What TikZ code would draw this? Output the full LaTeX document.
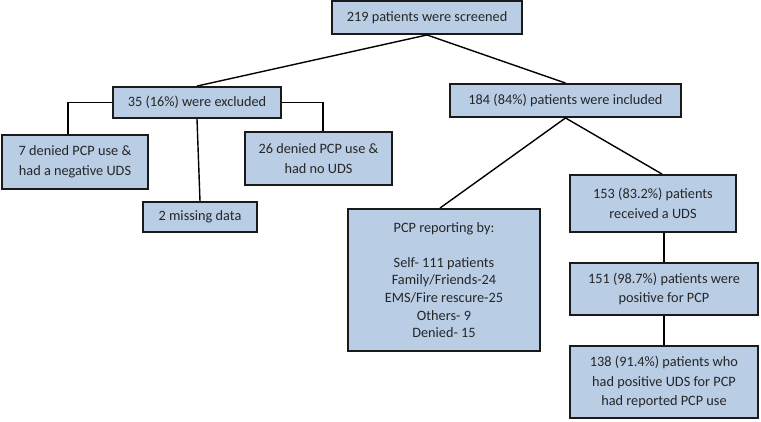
\documentclass[tikz,border=0pt]{standalone}
\usepackage{fontspec}
\setmainfont{Carlito}
\usetikzlibrary{positioning, calc}
\definecolor{boxblue}{HTML}{B9CDE5}
\definecolor{boxline}{HTML}{1A1A1A}

\begin{document}
\begin{tikzpicture}[x=1pt,y=-1pt,
		box/.style={rectangle,draw=boxline,line width=1.9pt,fill=boxblue,text=black!85,align=center,inner sep=0pt,font=\fontsize{14.3}{19.5}\selectfont},
		link/.style={line width=1.4pt,black}]
		\useasboundingbox (0,0) rectangle (761,421);
		
		\node(screen) at (427,17.5)[box,minimum width=190pt,minimum height=33pt]{219 patients were screened};
		\node(excl) at (197,102.5)[box,minimum width=168pt,minimum height=31pt]{35 (16\%) were excluded};
		\node(incl) at (565.5,100.5)[box,minimum width=231pt,minimum height=33pt]{184 (84\%) patients were included};
		\node(neg) at (75,162)[box,minimum width=146pt,minimum height=54pt]{7 denied PCP use \&\\had a negative UDS};
		\node(nouds) at (318.5,158.5)[box,minimum width=147pt,minimum height=53pt]{26 denied PCP use \&\\had no UDS};
		\node(miss) at (200,217)[box,minimum width=114pt,minimum height=30pt]{2 missing data};
		\node(report) at (444,280)[box,minimum width=192pt,minimum height=142pt,font=\fontsize{14.3}{17.6}\selectfont]{PCP reporting by:\\[17.6pt]Self- 111 patients\\Family/Friends-24\\EMS/Fire rescure-25\\Others- 9\\Denied- 15};
		\node(uds) at (653,203.5)[box,minimum width=166pt,minimum height=57pt]{153 (83.2\%) patients\\received a UDS};
		\node(pos) at (664,289)[box,minimum width=188pt,minimum height=52pt]{151 (98.7\%) patients were\\positive for PCP};
		\node(reported) at (664,382)[box,minimum width=188pt,minimum height=72pt]{138 (91.4\%) patients who\\had positive UDS for PCP\\had reported PCP use};
		
		\draw[link] (screen.south) to (excl.north);
		\draw[link] (screen.south) to (incl.north);
		\draw[link] (excl.west) -| ([xshift=-7pt]neg.north);
		\draw[link] (excl.east) -| ([xshift=4.5pt]nouds.north);
		\draw[link] (excl.south) to (miss.north);
		\draw[link] (incl.south) to ([xshift=-4pt]report.north);
		\draw[link] (incl.south) to ([xshift=9pt]uds.north);
		\draw[link] (pos.north |- uds.south) to (pos.north);
		\draw[link] (pos.south) to (reported.north);
		
	\end{tikzpicture}
\end{document}
